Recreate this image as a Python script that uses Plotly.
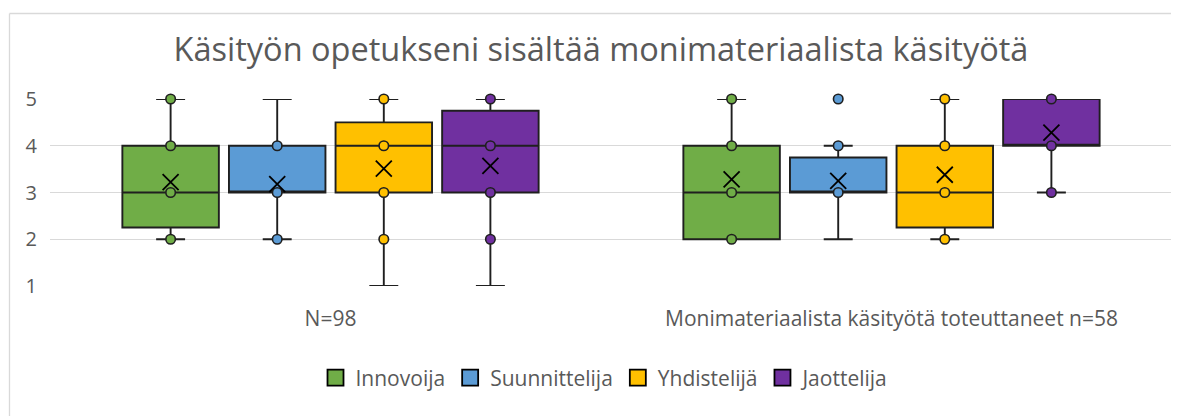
import plotly.graph_objects as go

# ---------------- data ----------------
groups = ["N=98", "Monimateriaalista käsityötä toteuttaneet n=58"]
series = ["Innovoija", "Suunnittelija", "Yhdistelijä", "Jaottelija"]

# per series: [group1, group2]
lower_whisker = [[2, 2], [2, 2], [1, 2], [1, 3]]
q1_values = [[2.25, 2], [3, 3], [3, 2.25], [3, 4]]
median_values = [[3, 3], [3, 3], [4, 3], [4, 4]]
q3_values = [[4, 4], [4, 3.75], [4.5, 4], [4.75, 5]]
upper_whisker = [[5, 5], [5, 4], [5, 5], [5, 5]]
mean_values = [[3.22, 3.28], [3.18, 3.25], [3.51, 3.38], [3.57, 4.28]]

# shown data points (inner points and outliers) per series, per group
points_innovoija = [[5, 4, 3, 2], [5, 4, 3, 2]]
points_suunnittelija = [[4, 3, 2], [5, 4, 3]]
points_yhdistelija = [[5, 4, 3, 2], [5, 4, 3, 2]]
points_jaottelija = [[5, 4, 3, 2], [5, 4, 3]]
points = [points_innovoija, points_suunnittelija, points_yhdistelija, points_jaottelija]

y_ticks = [1, 2, 3, 4, 5]

# ---------------- style ----------------
colors = ["#70AD47", "#5B9BD5", "#FFC000", "#7030A0"]
edge = "#1F1F1F"
text_color = "#595959"
grid_color = "#D9D9D9"
font_family = "'Open Sans', sans-serif"

slot = 0.19        # spacing between box centres (in category units)
box_w = 0.172      # box width (in category units)

fig = go.Figure()

for i, name in enumerate(series):
    pos = [g + (i - 1.5) * slot for g in range(len(groups))]
    fig.add_trace(go.Box(
        x=pos,
        q1=q1_values[i], median=median_values[i], q3=q3_values[i],
        lowerfence=lower_whisker[i], upperfence=upper_whisker[i],
        width=box_w, whiskerwidth=0.3,
        fillcolor=colors[i], line=dict(color=edge, width=1.9),
        boxpoints=False, showlegend=False, name=name, hoverinfo="skip",
    ))
    # data points
    px, py = [], []
    for g in range(len(groups)):
        for v in points[i][g]:
            px.append(pos[g])
            py.append(v)
    fig.add_trace(go.Scatter(
        x=px, y=py, mode="markers", showlegend=False, cliponaxis=False,
        marker=dict(symbol="circle", size=9.5, color=colors[i],
                    line=dict(color=edge, width=1.6)),
        hoverinfo="skip",
    ))
    # mean markers
    fig.add_trace(go.Scatter(
        x=pos, y=mean_values[i], mode="markers", showlegend=False, cliponaxis=False,
        marker=dict(symbol="x-thin", size=16, color="black",
                    line=dict(color="black", width=1.8)),
        hoverinfo="skip",
    ))
    # legend entry
    fig.add_trace(go.Scatter(
        x=[None], y=[None], mode="markers", name=name,
        marker=dict(symbol="square", size=16, color=colors[i],
                    line=dict(color="black", width=1.8)),
    ))

# the page body adds an 8px offset, so the figure is 8px smaller
OFF = 8
W, H = 1179 - OFF, 416 - OFF
L, R, T, B = 50 - OFF, 7, 99 - OFF, 130
pw, ph = W - L - R, H - T - B

# chart frame (light grey border, as in the source image)
fx = (9.5 - OFF - L) / pw
fy = 1 + (T - (13.5 - OFF)) / ph
fig.add_shape(type="line", xref="paper", yref="paper", x0=fx, x1=1.2, y0=fy, y1=fy,
              line=dict(color=grid_color, width=1.3))
fig.add_shape(type="line", xref="paper", yref="paper", x0=fx, x1=fx, y0=fy, y1=-2,
              line=dict(color=grid_color, width=1.3))

fig.update_layout(
    width=W, height=H,
    margin=dict(l=L, r=R, t=T, b=B),
    paper_bgcolor="white", plot_bgcolor="white",
    boxmode="overlay",
    font=dict(family=font_family, color=text_color, size=20),
    title=dict(text="Käsityön opetukseni sisältää monimateriaalista käsityötä",
               x=(601 - OFF) / W, xanchor="center", xref="container",
               y=1 - (50 - OFF) / H, yanchor="middle", yref="container",
               font=dict(size=32.5, color=text_color, family=font_family)),
    xaxis=dict(range=[-0.5, 1.5], tickvals=list(range(len(groups))), ticktext=groups,
               showgrid=False, zeroline=False, showline=False, ticks="",
               ticklabelstandoff=18, tickfont=dict(size=21, color=text_color)),
    yaxis=dict(range=[1, 5], tickvals=y_ticks, showgrid=True, gridcolor=grid_color,
               gridwidth=1.3, zeroline=False, showline=False, ticks="",
               ticklabelstandoff=12, tickfont=dict(size=20, color=text_color)),
    legend=dict(orientation="h", x=(605 - OFF - L) / pw, xanchor="center",
                y=(286 - 378) / ph, yanchor="middle",
                font=dict(size=21, color=text_color), itemclick=False),
)

fig.write_html("out.html")
